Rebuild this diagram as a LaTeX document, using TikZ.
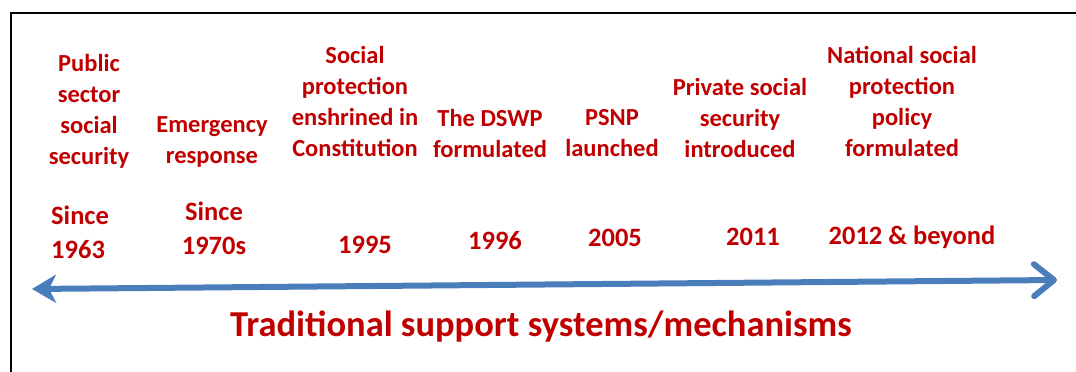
\documentclass[tikz,border=0pt]{standalone}
\usepackage{fontspec}
\setmainfont{Carlito}
\usetikzlibrary{arrows.meta}
\definecolor{eventred}{HTML}{C00000}
\definecolor{axisblue}{HTML}{4A7EBB}
\begin{document}
\begin{tikzpicture}[x=1pt,y=1pt,
  event/.style={text=eventred,align=center,inner sep=0pt,
    font=\bfseries\fontsize{24.5}{31}\selectfont},
  yearlabel/.style={text=eventred,align=center,inner sep=0pt,
    font=\bfseries\fontsize{26.5}{34}\selectfont},
  banner/.style={text=eventred,inner sep=0pt,
    font=\bfseries\fontsize{36.5}{40}\selectfont},
  timeline/.style={draw=axisblue,line width=6pt}]
\useasboundingbox (0,0) rectangle (1076,-372);
% frame
\draw[line width=2.2pt] (11,-372) -- (11,-13) -- (1076,-13);

% events
\node[event] (pub) at (89,-111) {Public\\sector\\social\\security};
\node[event] (emg) at (212,-142) {Emergency\\response};
\node[event] (con) at (355,-101) {Social\\protection\\enshrined in\\Constitution};
\node[event] (dswp) at (490,-133) {The DSWP\\formulated};
\node[event] (psnp) at (612,-133) {PSNP\\launched};
\node[event] (priv) at (740,-118) {Private social\\security\\introduced};
\node[event] (nat) at (902,-101) {National social\\protection\\policy\\formulated};

% dates
\node[yearlabel,align=left,anchor=west] (y1) at (51,-232) {Since\\1963};
\node[yearlabel] (y2) at (214,-228) {Since\\1970s};
\node[yearlabel] (y3) at (365,-245) {1995};
\node[yearlabel] (y4) at (495,-241) {1996};
\node[yearlabel] (y5) at (615,-238) {2005};
\node[yearlabel] (y6) at (753,-237) {2011};
\node[yearlabel] (y7) at (912,-237) {2012 \& beyond};

% time axis
\coordinate (tstart) at (32,-289);
\coordinate (tend) at (1057,-280);
\draw[timeline,
  {Stealth[length=24pt,width=28pt,inset=7pt]}-{Straight Barb[length=20pt,width=32pt,line cap=round,line join=round]}]
  (tstart) -- (tend);

\node[banner] (trad) at (541,-327) {Traditional support systems/mechanisms};
\end{tikzpicture}
\end{document}
